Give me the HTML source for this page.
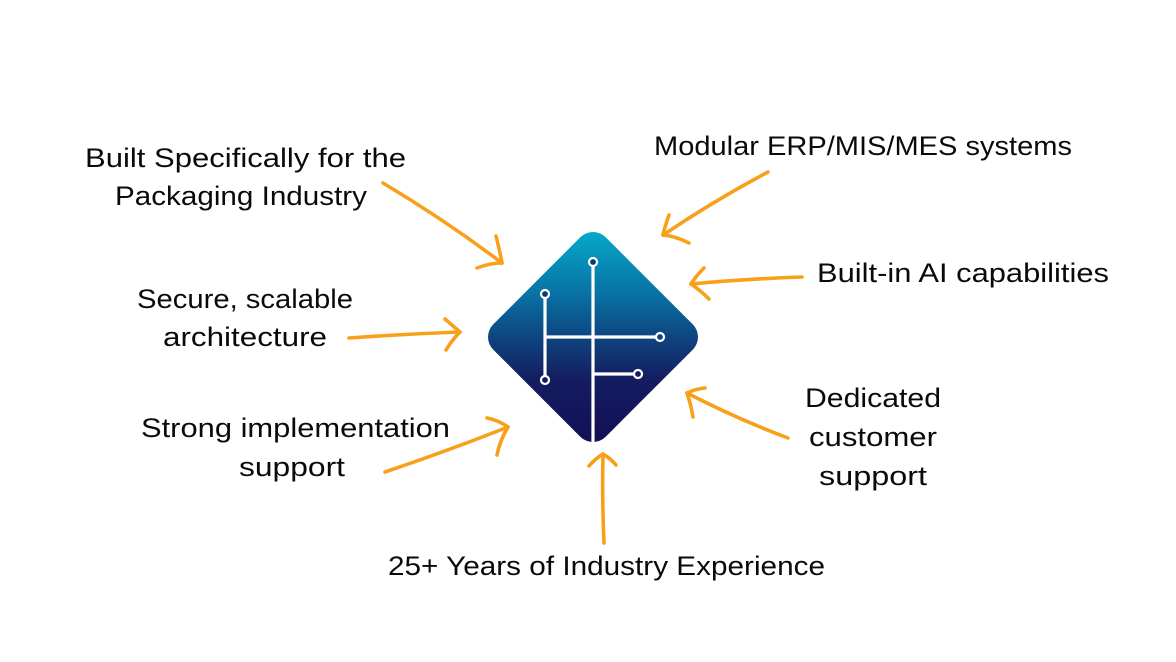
<!DOCTYPE html>
<html>
<head>
<meta charset="utf-8">
<style>
html,body{margin:0;padding:0;background:#fff;}
svg{display:block;}
text{font-family:"Liberation Sans","DejaVu Sans",sans-serif;font-size:27px;fill:#0a0a0a;}
</style>
</head>
<body>
<svg width="1176" height="662" viewBox="0 0 1176 662" xmlns="http://www.w3.org/2000/svg">
  <defs>
    <linearGradient id="g" gradientUnits="userSpaceOnUse" x1="0" y1="232" x2="0" y2="442">
      <stop offset="0" stop-color="#04a8c9"/>
      <stop offset="0.28" stop-color="#0875a6"/>
      <stop offset="0.5" stop-color="#0e4580"/>
      <stop offset="0.7" stop-color="#141d60"/>
      <stop offset="1" stop-color="#140f55"/>
    </linearGradient>
    <clipPath id="dc">
      <rect x="513.5" y="257.5" width="159" height="159" rx="18" ry="18" transform="rotate(45 593 337)"/>
    </clipPath>
  </defs>

  <!-- Diamond -->
  <g clip-path="url(#dc)">
    <rect x="470" y="220" width="250" height="240" fill="url(#g)"/>
    <g stroke="#fff" stroke-width="3.2" fill="none">
      <line x1="593" y1="266" x2="593" y2="450"/>
      <line x1="545" y1="298" x2="545" y2="376"/>
      <line x1="545" y1="337" x2="656" y2="337"/>
      <line x1="593" y1="374" x2="634" y2="374"/>
    </g>
    <g stroke="#fff" stroke-width="2.2" fill="#0b3a78">
      <circle cx="593" cy="262" r="4"/>
      <circle cx="545" cy="294" r="4"/>
      <circle cx="545" cy="380" r="4" fill="#141a5e"/>
      <circle cx="660" cy="337" r="4" fill="#0e4580"/>
      <circle cx="638" cy="374" r="4" fill="#141a5e"/>
    </g>
  </g>

  <!-- Arrows -->
  <g stroke="#f8a01a" stroke-width="3.6" fill="none" stroke-linecap="round" stroke-linejoin="round">
    <path d="M383,183 Q445,220 502,263"/>
    <path d="M496,236 Q500,252 502,263"/>
    <path d="M477,268 Q490,263 502,263"/>

    <path d="M349,338 Q405,334 460,332"/>
    <path d="M445,319 Q453,326 460,332"/>
    <path d="M446,350 Q452,340 460,332"/>

    <path d="M385,472 Q450,450 508,427"/>
    <path d="M487,418 Q498,420 508,427"/>
    <path d="M497,455 Q500,440 508,427"/>

    <path d="M768,172 Q715,200 663,235"/>
    <path d="M669,215 Q665,226 663,235"/>
    <path d="M689,243 Q675,236 663,235"/>

    <path d="M802,277 Q745,279 691,284"/>
    <path d="M704,268 Q696,276 691,284"/>
    <path d="M709,299 Q700,290 691,284"/>

    <path d="M788,438 Q735,418 687,393"/>
    <path d="M705,388 Q695,389 687,393"/>
    <path d="M693,417 Q691,405 687,393"/>

    <path d="M604,543 Q602,500 603,454"/>
    <path d="M589,466 Q596,458 603,454"/>
    <path d="M616,465 Q610,458 603,454"/>
  </g>

  <!-- Labels -->
  <text x="85" y="167" textLength="321" lengthAdjust="spacingAndGlyphs">Built Specifically for the</text>
  <text x="115" y="205" textLength="252" lengthAdjust="spacingAndGlyphs">Packaging Industry</text>

  <text x="654" y="155" textLength="418" lengthAdjust="spacingAndGlyphs">Modular ERP/MIS/MES systems</text>
  <text x="817" y="282" textLength="292" lengthAdjust="spacingAndGlyphs">Built-in AI capabilities</text>

  <text x="137" y="308" textLength="216" lengthAdjust="spacingAndGlyphs">Secure, scalable</text>
  <text x="163" y="346" textLength="164" lengthAdjust="spacingAndGlyphs">architecture</text>

  <text x="141" y="437" textLength="309" lengthAdjust="spacingAndGlyphs">Strong implementation</text>
  <text x="239" y="476" textLength="106" lengthAdjust="spacingAndGlyphs">support</text>

  <text x="805" y="407" textLength="136" lengthAdjust="spacingAndGlyphs">Dedicated</text>
  <text x="809" y="446" textLength="128" lengthAdjust="spacingAndGlyphs">customer</text>
  <text x="819" y="485" textLength="108" lengthAdjust="spacingAndGlyphs">support</text>

  <text x="388" y="575" textLength="437" lengthAdjust="spacingAndGlyphs">25+ Years of Industry Experience</text>
</svg>
</body>
</html>
